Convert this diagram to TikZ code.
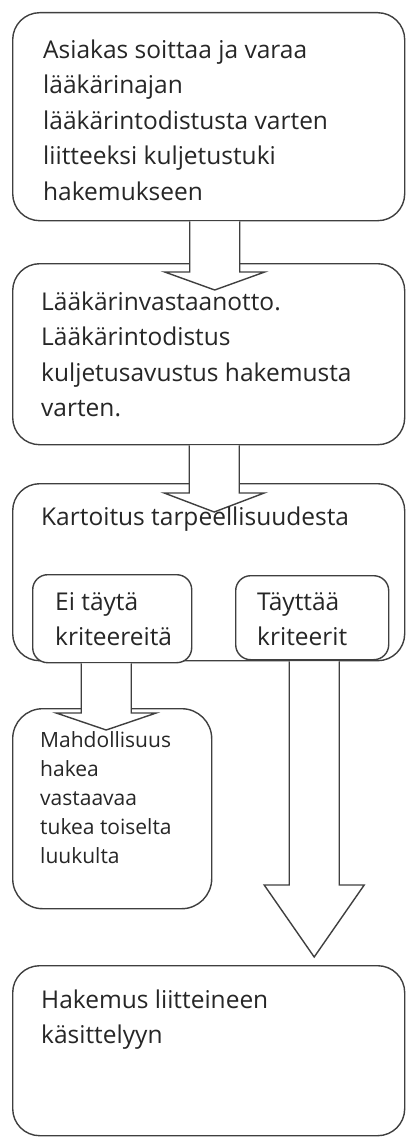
\documentclass[tikz,border=0pt]{standalone}
\usepackage{fontspec}
\setmainfont{Open Sans}
\usetikzlibrary{calc}

\definecolor{edgegray}{HTML}{3F3F3F}
\definecolor{inkgray}{HTML}{262626}

\tikzset{
  stepbox/.style={draw=edgegray, line width=1.4pt, fill=white,
    rounded corners=#1, inner sep=0pt, anchor=north west},
  stepbox/.default=27pt,
  steptext/.style={anchor=base west, align=left, inner sep=0pt,
    text=inkgray, font=\fontsize{24.5}{35.5}\selectfont},
  smalltext/.style={steptext, font=\fontsize{21}{29}\selectfont},
  fatarrow/.style={draw=edgegray, line width=1.4pt, fill=white},
}

% block arrow: #1 start, #2 tip, #3 head length
\newcommand{\blockarrow}[3]{%
  \draw[fatarrow] let \p1=(#1), \p2=(#2) in
    (\x2-25pt,\y1) -- (\x2-25pt,\y2+#3) -- (\x2-50pt,\y2+#3) -- (\p2)
    -- (\x2+50pt,\y2+#3) -- (\x2+25pt,\y2+#3) -- (\x2+25pt,\y1);
}

\begin{document}
\begin{tikzpicture}[x=1pt, y=-1pt]
  \useasboundingbox (0,0) rectangle (406,1137);

  % Boxes
  \node[stepbox, minimum width=392pt, minimum height=208pt] (ask) at (12,12) {};
  \node[stepbox, minimum width=392pt, minimum height=181pt] (visit) at (12,263) {};
  \node[stepbox, minimum width=392pt, minimum height=177pt] (survey) at (12,483) {};
  \node[stepbox=15pt, minimum width=159pt, minimum height=88pt] (nofit) at (32,574) {};
  \node[stepbox=15pt, minimum width=153pt, minimum height=84pt] (fit) at (235,575) {};
  \node[stepbox=30pt, minimum width=199pt, minimum height=200pt] (other) at (12,708) {};
  \node[stepbox, minimum width=392pt, minimum height=170pt] (apply) at (12,965) {};

  % Arrow tips
  \coordinate (tip1) at ([xshift=6pt, yshift=-27pt]visit.north);
  \coordinate (tip2) at ([xshift=5.5pt, yshift=-29pt]survey.north);
  \coordinate (tip3) at ([xshift=-6pt, yshift=-22pt]other.north);
  \coordinate (tip4) at ([xshift=105.5pt, yshift=8pt]apply.north);

  % Arrows
  \blockarrow{ask.south}{tip1}{18pt}
  \blockarrow{visit.south}{tip2}{19pt}
  \blockarrow{nofit.south}{tip3}{17pt}
  \blockarrow{survey.south}{tip4}{72pt}

  % Texts (placed at the baseline of the last line)
  \node[steptext] (askt) at (43,200) {Asiakas soittaa ja varaa\\lääkärinajan\\lääkärintodistusta varten\\liitteeksi kuljetustuki\\hakemukseen};
  \node[steptext] (visitt) at (41,416.5) {Lääkärinvastaanotto.\\Lääkärintodistus\\kuljetusavustus hakemusta\\varten.};
  \node[steptext] (surveyt) at (41,525) {Kartoitus tarpeellisuudesta};
  \node[steptext] (nofitt) at (55,645.5) {Ei täytä\\kriteereitä};
  \node[steptext] (fitt) at (257,645.5) {Täyttää\\kriteerit};
  \node[smalltext] (othert) at (40,863) {Mahdollisuus\\hakea\\vastaavaa\\tukea toiselta\\luukulta};
  \node[steptext] (applyt) at (41,1043.5) {Hakemus liitteineen\\käsittelyyn};
\end{tikzpicture}
\end{document}
